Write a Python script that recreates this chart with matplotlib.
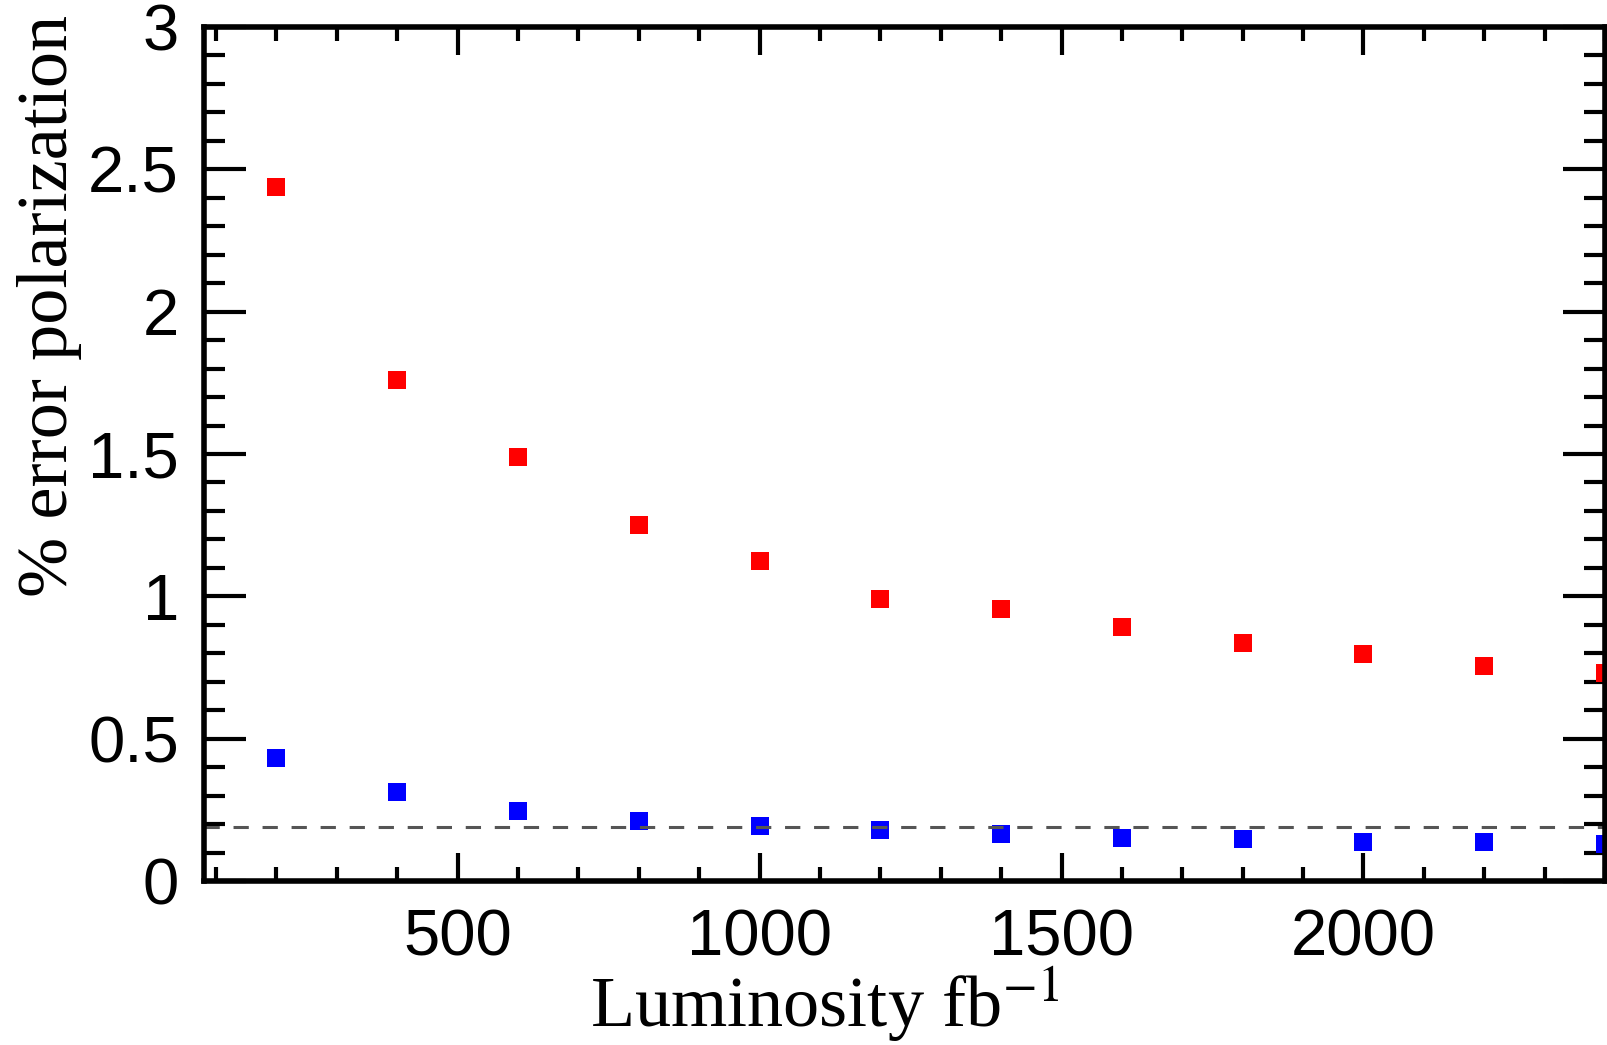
import numpy as np
import matplotlib
matplotlib.use("Agg")
import matplotlib.pyplot as plt
from matplotlib.ticker import MultipleLocator, FuncFormatter

plt.rcParams['font.family'] = 'Liberation Sans'
plt.rcParams['mathtext.fontset'] = 'stix'

# luminosity points (fb^-1)
lumi = [200, 400, 600, 800, 1000, 1200, 1400, 1600, 1800, 2000, 2200, 2400]
# % error on polarization, two series
err_red = [2.437, 1.761, 1.488, 1.249, 1.124, 0.990, 0.956, 0.892, 0.835, 0.798, 0.756, 0.730]
err_blue = [0.432, 0.314, 0.246, 0.211, 0.193, 0.178, 0.164, 0.150, 0.147, 0.138, 0.138, 0.129]
ref_level = 0.19

fig = plt.figure(figsize=(16.07, 10.45), dpi=100)
ax = fig.add_axes([0.1269, 0.1569, 0.8719, 0.8173])

ax.plot(lumi, err_red, 's', color='#ff0000', ms=13, mew=0)
ax.plot(lumi, err_blue, 's', color='#0000ff', ms=13, mew=0)
ax.axhline(ref_level, color='#555555', lw=2.2, ls=(0, (5, 4.5)))

ax.set_xlim(80, 2400)
ax.set_ylim(0, 3)

ax.xaxis.set_major_locator(MultipleLocator(500))
ax.xaxis.set_minor_locator(MultipleLocator(100))
ax.yaxis.set_major_locator(MultipleLocator(0.5))
ax.yaxis.set_minor_locator(MultipleLocator(0.1))
ax.yaxis.set_major_formatter(FuncFormatter(lambda v, p: '%g' % v))

for s in ax.spines.values():
    s.set_linewidth(4)

ax.tick_params(axis='both', which='both', direction='in', top=True, right=True, width=3)
ax.tick_params(axis='x', which='major', length=20, pad=20, labelsize=47)
ax.tick_params(axis='x', which='minor', length=10)
ax.tick_params(axis='y', which='major', length=30, pad=18, labelsize=47)
ax.tick_params(axis='y', which='minor', length=15)

ax.set_xlabel(r'Luminosity fb$^{-1}$', family='Liberation Serif', fontsize=52)
ax.xaxis.label.set_va('baseline')
ax.xaxis.set_label_coords(0.443, -0.171)

ax.set_ylabel('% error polarization', family='Liberation Serif', fontsize=52)
ax.yaxis.set_label_coords(-0.087, 0.673)

fig.savefig('out.png', dpi=100)
